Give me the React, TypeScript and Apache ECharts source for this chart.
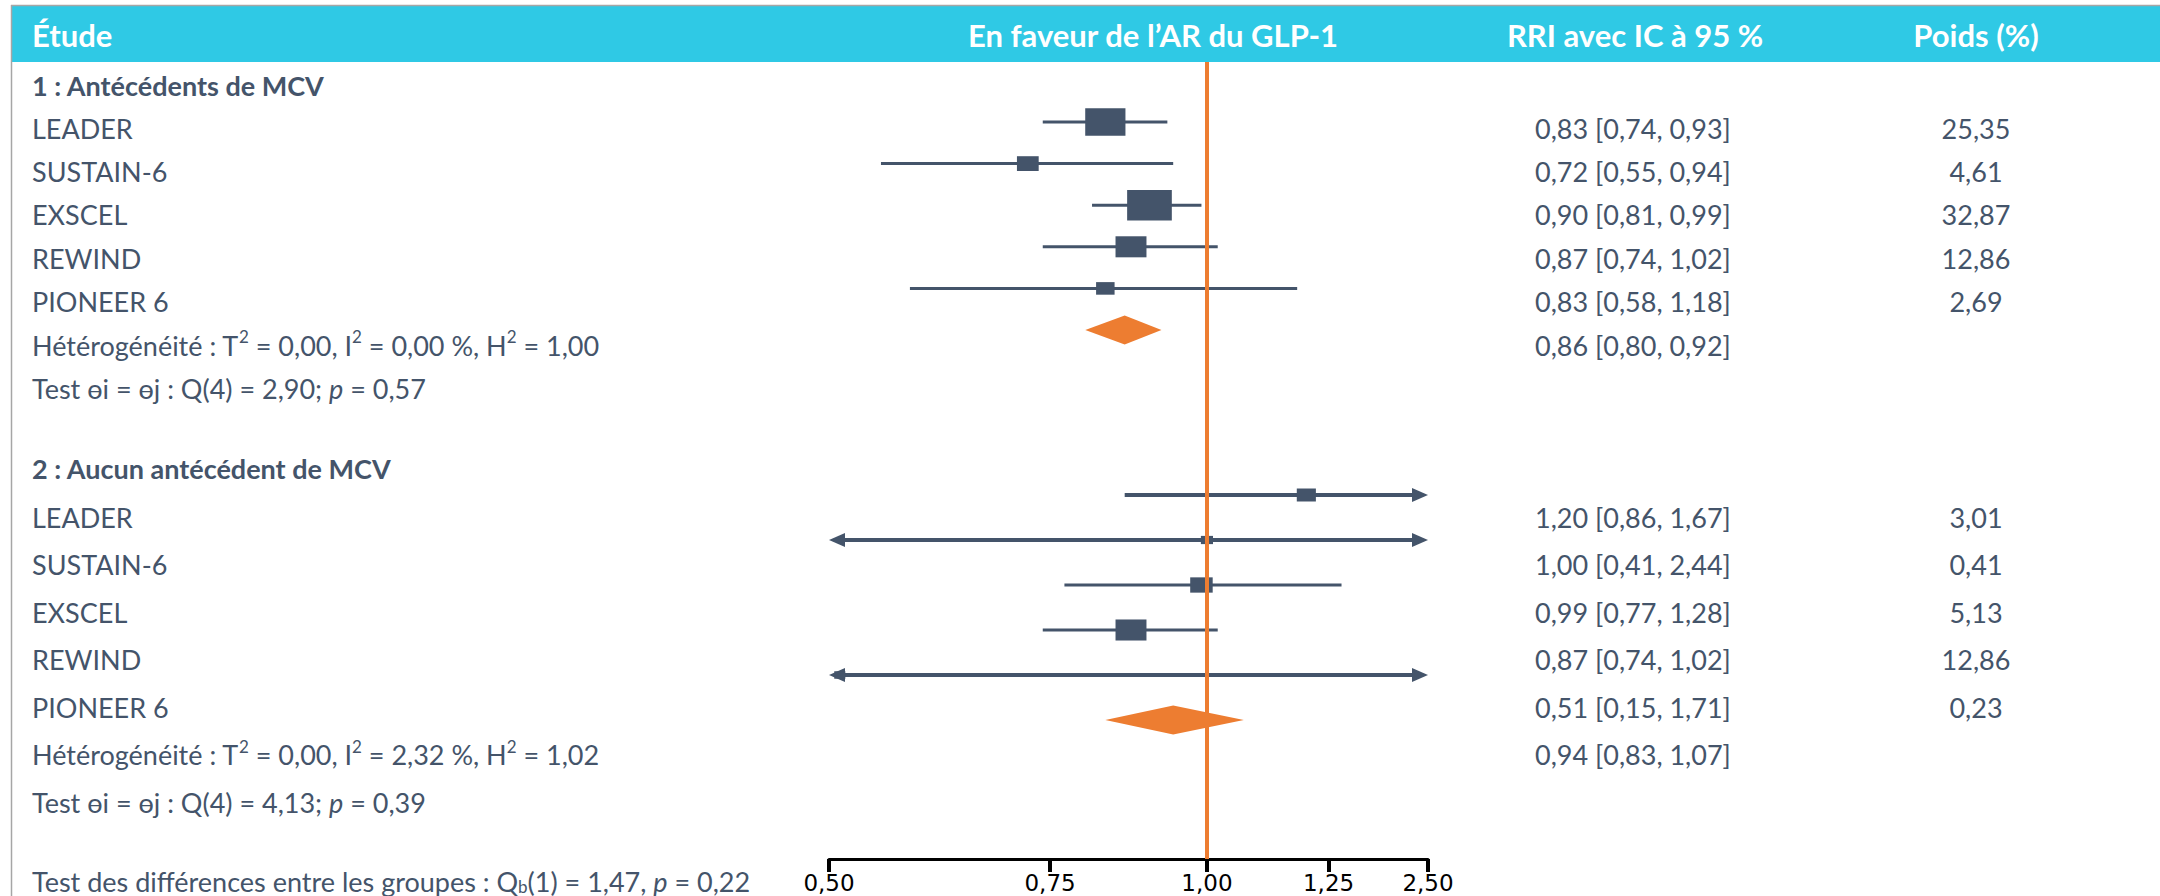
import { useEffect, useRef } from "react";
import * as echarts from "echarts";

// ---- Données ----
const STUDIES = ["LEADER", "SUSTAIN-6", "EXSCEL", "REWIND", "PIONEER 6"];

// Sous-groupe 1 : antécédents de MCV
const CVD_RR = [0.83, 0.72, 0.9, 0.87, 0.83];
const CVD_LOW = [0.74, 0.55, 0.81, 0.74, 0.58];
const CVD_HIGH = [0.93, 0.94, 0.99, 1.02, 1.18];
const CVD_WEIGHT = [25.35, 4.61, 32.87, 12.86, 2.69];
const CVD_POOLED = [0.86, 0.8, 0.92]; // RRI, borne basse, borne haute

// Sous-groupe 2 : aucun antécédent de MCV
const NO_CVD_RR = [1.2, 1.0, 0.99, 0.87, 0.51];
const NO_CVD_LOW = [0.86, 0.41, 0.77, 0.74, 0.15];
const NO_CVD_HIGH = [1.67, 2.44, 1.28, 1.02, 1.71];
const NO_CVD_WEIGHT = [3.01, 0.41, 5.13, 12.86, 0.23];
const NO_CVD_POOLED = [0.94, 0.83, 1.07];

// Statistiques d'hétérogénéité : T², I² (%), H²
const HETEROGENEITY = [
  ["0,00", "0,00", "1,00"],
  ["0,00", "2,32", "1,02"],
];
// Test d'homogénéité : ddl, Q, p
const HOMOGENEITY_TEST = [
  ["4", "2,90", "0,57"],
  ["4", "4,13", "0,39"],
];
// Test des différences entre les groupes : ddl, Qb, p
const BETWEEN_TEST = ["1", "1,47", "0,22"];

const HEADERS = ["Étude", "En faveur de l’AR du GLP-1", "RRI avec IC à 95 %", "Poids (%)"];
const GROUP_TITLES = ["1 : Antécédents de MCV", "2 : Aucun antécédent de MCV"];

// Axe des RRI (échelle logarithmique)
const AXIS_MIN = 0.5;
const AXIS_MAX = 1.5;
const AXIS_TICKS = [0.5, 0.75, 1.0, 1.25, 1.5];
const AXIS_TICK_LABELS = ["0,50", "0,75", "1,00", "1,25", "2,50"];

// ---- Mise en page ----
const W = 2160;
const H = 896;
const PLOT_TOP = 62;
const PLOT_BOTTOM = 859;
const PLOT_LEFT = 829;
const PLOT_RIGHT = 1428;
const LABEL_X = 32;
const VALUE_X = 1535;
const WEIGHT_X = 1976;
const HEADER_CENTERS = [0, 1153, 1635, 1976];
const GROUP_LAYOUT = [
  { titleY: 85, rowY0: 128, rowStep: 43.4, markY0: 122, markStep: 41.6 },
  { titleY: 468, rowY0: 517, rowStep: 47.5, markY0: 495, markStep: 45 },
];
const FOOT_Y = 881;

const TEAL = "#2FC9E5";
const ORANGE = "#ED7D31";
const MARK = "#44546A";
const TEXT = "#44546A";
const FONT = "Lato";
const FS = 27;

const fmt = (v: number) => v.toFixed(2).replace(".", ",");
const rowY = (g: number, i: number) => GROUP_LAYOUT[g].rowY0 + i * GROUP_LAYOUT[g].rowStep;
const markY = (g: number, i: number) => GROUP_LAYOUT[g].markY0 + i * GROUP_LAYOUT[g].markStep;

const GROUPS = [
  { rr: CVD_RR, lo: CVD_LOW, hi: CVD_HIGH, wt: CVD_WEIGHT, pooled: CVD_POOLED },
  { rr: NO_CVD_RR, lo: NO_CVD_LOW, hi: NO_CVD_HIGH, wt: NO_CVD_WEIGHT, pooled: NO_CVD_POOLED },
];

const richStyles = {
  sup: { fontSize: 17, lineHeight: 26, verticalAlign: "top", fontFamily: FONT, fill: TEXT },
  sub: { fontSize: 17, lineHeight: 12, verticalAlign: "bottom", fontFamily: FONT, fill: TEXT },
  it: { fontSize: FS, fontStyle: "italic", fontFamily: FONT, fill: TEXT },
};

function textEl(text: string, x: number, y: number, opts: any = {}) {
  return {
    type: "text",
    silent: true,
    z: 10,
    style: {
      text,
      x,
      y,
      fill: opts.fill || TEXT,
      fontSize: opts.fontSize || FS,
      fontFamily: FONT,
      fontWeight: opts.fontWeight || "normal",
      lineHeight: opts.lineHeight || 34,
      align: opts.align || "left",
      verticalAlign: "middle",
      rich: richStyles,
    },
  };
}

function renderStudy(_params: any, api: any) {
  const rr = api.value(0);
  const lo = api.value(1);
  const hi = api.value(2);
  const wt = api.value(3);
  const yv = api.value(4);
  const px = (v: number) => api.coord([Math.log(v), yv])[0];
  const y = api.coord([0, yv])[1];
  const leftOut = lo < AXIS_MIN;
  const rightOut = hi > AXIS_MAX;
  const xLo = px(Math.max(lo, AXIS_MIN));
  const xHi = px(Math.min(hi, AXIS_MAX));
  const lw = leftOut || rightOut ? 4 : 3;
  const headL = 16;
  const headH = 14;
  const children: any[] = [
    {
      type: "line",
      shape: { x1: leftOut ? xLo + headL - 1 : xLo, y1: y, x2: rightOut ? xHi - headL + 1 : xHi, y2: y },
      style: { stroke: MARK, lineWidth: lw },
    },
  ];
  if (leftOut) {
    children.push({
      type: "polygon",
      shape: { points: [[xLo, y], [xLo + headL, y - headH / 2], [xLo + headL, y + headH / 2]] },
      style: { fill: MARK },
    });
  }
  if (rightOut) {
    children.push({
      type: "polygon",
      shape: { points: [[xHi, y], [xHi - headL, y - headH / 2], [xHi - headL, y + headH / 2]] },
      style: { fill: MARK },
    });
  }
  // Taille du carré proportionnelle au poids de l'étude
  const w = 8 + 6.4 * Math.sqrt(wt);
  const h = 0.68 * w;
  const xc = px(rr);
  children.push({
    type: "rect",
    shape: { x: xc - w / 2, y: y - h / 2, width: w, height: h },
    style: { fill: MARK },
  });
  return { type: "group", children };
}

function renderPooled(_params: any, api: any) {
  const rr = api.value(0);
  const lo = api.value(1);
  const hi = api.value(2);
  const yv = api.value(3);
  const px = (v: number) => api.coord([Math.log(v), yv])[0];
  const y = api.coord([0, yv])[1];
  const hh = 14.5;
  return {
    type: "polygon",
    shape: { points: [[px(lo), y], [px(rr), y - hh], [px(hi), y], [px(rr), y + hh]] },
    style: { fill: ORANGE },
  };
}

function buildOption() {
  const studyData: any[] = [];
  const pooledData: any[] = [];
  GROUPS.forEach((g, gi) => {
    g.rr.forEach((v, i) => studyData.push({ value: [v, g.lo[i], g.hi[i], g.wt[i], markY(gi, i)] }));
    pooledData.push({ value: [g.pooled[0], g.pooled[1], g.pooled[2], markY(gi, STUDIES.length)] });
  });

  const graphics: any[] = [
    { type: "rect", silent: true, z: 1, shape: { x: 11, y: 6, width: W - 11, height: PLOT_TOP - 6 }, style: { fill: TEAL } },
    { type: "line", silent: true, z: 2, shape: { x1: 11, y1: 5.5, x2: W, y2: 5.5 }, style: { stroke: "#A6A6A6", lineWidth: 1.5 } },
    { type: "line", silent: true, z: 2, shape: { x1: 11.5, y1: 5, x2: 11.5, y2: H }, style: { stroke: "#A6A6A6", lineWidth: 1.5 } },
  ];

  // En-têtes
  graphics.push(textEl(HEADERS[0], LABEL_X, 35, { fill: "#fff", fontWeight: "bold", fontSize: 31 }));
  for (let k = 1; k < HEADERS.length; k++) {
    graphics.push(textEl(HEADERS[k], HEADER_CENTERS[k], 35, { fill: "#fff", fontWeight: "bold", fontSize: 31, align: "center" }));
  }

  GROUPS.forEach((g, gi) => {
    graphics.push(textEl(GROUP_TITLES[gi], LABEL_X, GROUP_LAYOUT[gi].titleY, { fontWeight: "bold" }));
    STUDIES.forEach((name, i) => {
      const y = rowY(gi, i);
      graphics.push(textEl(name, LABEL_X, y));
      graphics.push(textEl(`${fmt(g.rr[i])} [${fmt(g.lo[i])}, ${fmt(g.hi[i])}]`, VALUE_X, y));
      graphics.push(textEl(fmt(g.wt[i]), WEIGHT_X, y, { align: "center" }));
    });
    const [t2, i2, h2] = HETEROGENEITY[gi];
    const yHet = rowY(gi, STUDIES.length);
    graphics.push(
      textEl(`Hétérogénéité : T{sup|2} = ${t2}, I{sup|2} = ${i2} %, H{sup|2} = ${h2}`, LABEL_X, yHet)
    );
    graphics.push(
      textEl(`${fmt(g.pooled[0])} [${fmt(g.pooled[1])}, ${fmt(g.pooled[2])}]`, VALUE_X, yHet)
    );
    const [df, q, p] = HOMOGENEITY_TEST[gi];
    graphics.push(
      textEl(`Test ɵi = ɵj : Q(${df}) = ${q}; {it|p} = ${p}`, LABEL_X, rowY(gi, STUDIES.length + 1))
    );
  });

  const [bdf, bq, bp] = BETWEEN_TEST;
  graphics.push(
    textEl(`Test des différences entre les groupes : Q{sub|b}(${bdf}) = ${bq}, {it|p} = ${bp}`, LABEL_X, FOOT_Y, {
      lineHeight: 28,
    })
  );

  const tickVals = AXIS_TICKS.map((t) => Math.log(t));
  const tickLabel = (v: number) => {
    const i = tickVals.findIndex((t) => Math.abs(t - v) < 1e-6);
    return i >= 0 ? AXIS_TICK_LABELS[i] : "";
  };

  return {
    animation: false,
    backgroundColor: "#ffffff",
    grid: {
      left: PLOT_LEFT,
      right: W - PLOT_RIGHT,
      top: PLOT_TOP,
      bottom: H - PLOT_BOTTOM,
      containLabel: false,
    },
    xAxis: {
      type: "value",
      min: Math.log(AXIS_MIN),
      max: Math.log(AXIS_MAX),
      axisLine: { show: true, onZero: false, lineStyle: { color: "#000", width: 3 } },
      axisTick: { show: true, customValues: tickVals, length: 13, lineStyle: { color: "#000", width: 4 } },
      axisLabel: {
        customValues: tickVals,
        formatter: tickLabel,
        fontFamily: "DejaVu Sans",
        fontSize: 23,
        lineHeight: 23,
        color: "#000",
        margin: 12,
      },
      splitLine: { show: false },
    },
    yAxis: {
      type: "value",
      min: PLOT_TOP,
      max: PLOT_BOTTOM,
      inverse: true,
      show: false,
    },
    graphic: graphics,
    series: [
      {
        type: "custom",
        name: "Études",
        renderItem: renderStudy,
        encode: { x: 0, y: 4 },
        data: studyData,
        z: 3,
        silent: true,
      },
      {
        type: "custom",
        name: "Effet combiné",
        renderItem: renderPooled,
        encode: { x: 0, y: 3 },
        data: pooledData,
        z: 3,
        silent: true,
      },
      {
        type: "line",
        name: "Référence",
        data: [],
        z: 5,
        silent: true,
        markLine: {
          silent: true,
          symbol: ["none", "none"],
          label: { show: false },
          lineStyle: { color: ORANGE, width: 4, type: "solid" },
          data: [{ xAxis: 0 }],
        },
      },
    ],
  };
}

export default function App() {
  const ref = useRef<HTMLDivElement>(null);
  useEffect(() => {
    if (!ref.current) return;
    const chart = echarts.init(ref.current, null, { renderer: "svg" });
    chart.setOption(buildOption() as any);
    return () => chart.dispose();
  }, []);
  return (
    <div
      ref={ref}
      style={{ position: "fixed", left: 0, top: 0, width: W, height: H, background: "#fff" }}
    />
  );
}
